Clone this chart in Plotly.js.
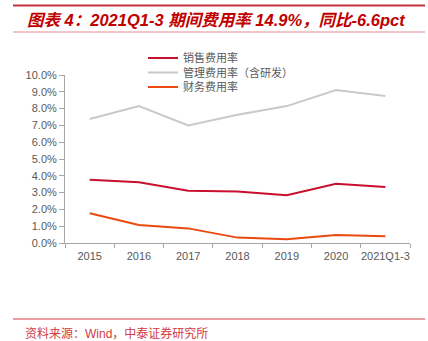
<!DOCTYPE html>
<html><head><meta charset="utf-8">
<script src="https://cdn.plot.ly/plotly-3.0.1.min.js"></script>
<style>html,body{margin:0;padding:0;background:#fff;}#chart{width:428px;height:341px;}</style>
</head><body><div id="chart"></div>
<script>
const years = ['2015','2016','2017','2018','2019','2020','2021Q1-3'];
const salesRate = [3.77, 3.61, 3.11, 3.06, 2.84, 3.53, 3.33];
const adminRate = [7.38, 8.15, 7.00, 7.64, 8.15, 9.10, 8.75];
const financeRate = [1.77, 1.07, 0.87, 0.32, 0.22, 0.48, 0.40];
const seriesNames = ['销售费用率', '管理费用率（含研发）', '财务费用率'];
const yTicks = [0,1,2,3,4,5,6,7,8,9,10];

const cjk = '"Liberation Sans", Arial, "Noto Sans CJK SC", sans-serif';
const traces = [
  {x: years, y: salesRate, name: seriesNames[0], legend: 'legend', type: 'scatter', mode: 'lines', line: {color: '#C8102E', width: 2}},
  {x: years, y: adminRate, name: seriesNames[1], legend: 'legend2', type: 'scatter', mode: 'lines', line: {color: '#C9C9C9', width: 2}},
  {x: years, y: financeRate, name: seriesNames[2], legend: 'legend3', type: 'scatter', mode: 'lines', line: {color: '#EA4A10', width: 2}}
];
const W = 345, H = 168, L = 65, T = 75;
const px = v => (v - L) / W;
const py = v => (T + H - v) / H;
const legendStyle = (yc) => ({
  x: px(143), y: py(yc), xanchor: 'left', yanchor: 'middle',
  bgcolor: 'rgba(0,0,0,0)', font: {family: '"Noto Sans CJK SC", sans-serif', size: 11, color: '#595959'},
  tracegroupgap: 0
});
const layout = {
  width: 428, height: 341,
  margin: {l: L, r: 428 - L - W, t: T, b: 341 - T - H, pad: 0},
  paper_bgcolor: '#fff', plot_bgcolor: '#fff',
  hovermode: false,
  font: {family: cjk, size: 11, color: '#595959'},
  xaxis: {
    type: 'category', range: [-0.5, years.length - 0.5], autorange: false,
    tickson: 'boundaries', ticks: 'outside', ticklen: 4, tickcolor: '#A6A6A6',
    showline: true, linecolor: '#A6A6A6', linewidth: 1, showgrid: false, zeroline: false,
    ticklabelstandoff: 3, tickangle: 0,
    tickfont: {size: 11, color: '#595959'}, fixedrange: true
  },
  yaxis: {
    range: [0, 10], tickvals: yTicks, ticktext: yTicks.map(v => v.toFixed(1) + '%'),
    ticks: 'outside', ticklen: 5, tickcolor: '#A6A6A6',
    showline: true, linecolor: '#A6A6A6', linewidth: 1, showgrid: false, zeroline: false,
    tickfont: {size: 11, color: '#595959'}, fixedrange: true
  },
  showlegend: true,
  legend: legendStyle(58),
  legend2: legendStyle(72.5),
  legend3: legendStyle(87),
  shapes: [
    {type: 'line', xref: 'paper', yref: 'paper', x0: px(13), x1: px(425), y0: py(5.5), y1: py(5.5), line: {color: '#C8323A', width: 2}},
    {type: 'line', xref: 'paper', yref: 'paper', x0: px(13), x1: px(425), y0: py(32), y1: py(32), line: {color: '#E38C90', width: 1}},
    {type: 'line', xref: 'paper', yref: 'paper', x0: px(13), x1: px(425), y0: py(319), y1: py(319), line: {color: '#E8A0A3', width: 2}}
  ],
  annotations: [
    {xref: 'paper', yref: 'paper', x: px(25), y: py(19.5), xanchor: 'left', yanchor: 'middle', showarrow: false,
     text: '<b><i>图表 4：2021Q1-3 期间费用率 14.9%，同比-6.6pct</i></b>',
     font: {family: '"Liberation Sans", Arial, "Noto Sans CJK SC", sans-serif', size: 16.5, color: '#C00000'}},
    {xref: 'paper', yref: 'paper', x: px(23), y: py(333), xanchor: 'left', yanchor: 'middle', showarrow: false,
     text: '资料来源：Wind，中泰证券研究所',
     font: {family: '"Liberation Sans", Arial, "Noto Sans CJK SC", sans-serif', size: 12, color: '#D03A40'}}
  ]
};
Plotly.newPlot('chart', traces, layout, {displayModeBar: false, staticPlot: true});
</script></body></html>
